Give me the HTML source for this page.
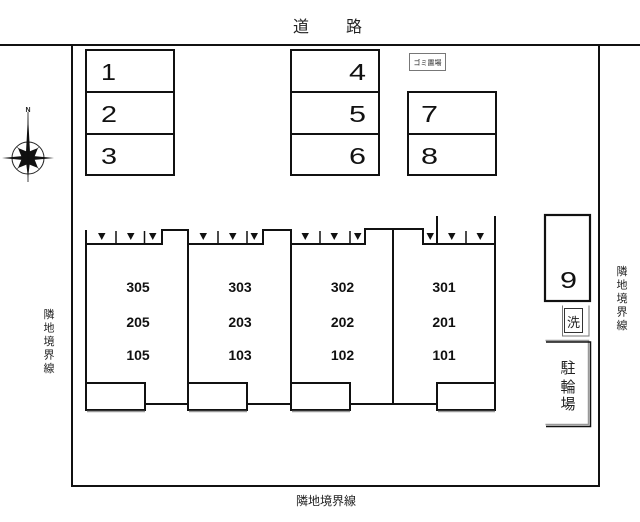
<!DOCTYPE html>
<html>
<head>
<meta charset="utf-8">
<style>
html,body{margin:0;padding:0;background:#fff;}
body{width:640px;height:522px;overflow:hidden;}
svg{display:block;}
.num{font-family:"Liberation Sans",sans-serif;font-size:23px;fill:#111;}
.unit{font-family:"Liberation Sans",sans-serif;font-size:14px;font-weight:bold;fill:#111;}
.jp{font-family:"Liberation Sans","Noto Sans CJK JP",sans-serif;fill:#222;}
</style>
</head>
<body>
<svg width="640" height="522" viewBox="0 0 640 522" xmlns="http://www.w3.org/2000/svg">
<rect width="640" height="522" fill="#fff"/>

<!-- Title -->
<text x="293" y="32" class="jp" font-size="16">道</text>
<text x="346" y="32" class="jp" font-size="16">路</text>

<!-- road line & boundaries -->
<line x1="0" y1="45" x2="640" y2="45" stroke="#111" stroke-width="2"/>
<polyline points="72,45 72,486 599,486 599,45" fill="none" stroke="#111" stroke-width="2"/>

<!-- Parking 1-3 -->
<g fill="none" stroke="#111" stroke-width="2">
  <rect x="86" y="50" width="88" height="125"/>
  <line x1="86" y1="92" x2="174" y2="92"/>
  <line x1="86" y1="134" x2="174" y2="134"/>
  <rect x="291" y="50" width="88" height="125"/>
  <line x1="291" y1="92" x2="379" y2="92"/>
  <line x1="291" y1="134" x2="379" y2="134"/>
  <rect x="408" y="92" width="88" height="83"/>
  <line x1="408" y1="134" x2="496" y2="134"/>
</g>
<text x="101" y="80" class="num" textLength="15" lengthAdjust="spacingAndGlyphs">1</text>
<text x="101" y="122" class="num" textLength="16" lengthAdjust="spacingAndGlyphs">2</text>
<text x="101" y="164" class="num" textLength="16" lengthAdjust="spacingAndGlyphs">3</text>
<text x="349" y="80" class="num" textLength="17" lengthAdjust="spacingAndGlyphs">4</text>
<text x="349" y="122" class="num" textLength="17" lengthAdjust="spacingAndGlyphs">5</text>
<text x="349" y="164" class="num" textLength="17" lengthAdjust="spacingAndGlyphs">6</text>
<text x="421" y="122" class="num" textLength="17" lengthAdjust="spacingAndGlyphs">7</text>
<text x="421" y="164" class="num" textLength="17" lengthAdjust="spacingAndGlyphs">8</text>

<!-- gomi box -->
<rect x="409.5" y="53.5" width="36" height="17" fill="#fff" stroke="#777" stroke-width="1"/>
<text x="427.5" y="65" class="jp" font-size="7" text-anchor="middle">ゴミ置場</text>

<!-- Compass -->
<g>
  <text x="28" y="112" class="jp" font-size="7" text-anchor="middle" font-weight="bold">N</text>
  <circle cx="28" cy="158" r="16" fill="none" stroke="#222" stroke-width="1"/>
  <g stroke="#444" stroke-width="0.6">
    <line x1="16.7" y1="146.7" x2="39.3" y2="169.3"/>
    <line x1="39.3" y1="146.7" x2="16.7" y2="169.3"/>
  </g>
  <polygon points="28,115 30.2,155.8 54,158 30.2,160.2 28,178 25.8,160.2 2,158 25.8,155.8" fill="#111"/>
  <polygon points="28,152 38,148 34,158 38,168 28,164 18,168 22,158 18,148" fill="#111"/>
  <line x1="28" y1="112" x2="28" y2="182" stroke="#111" stroke-width="0.8"/>
</g>

<!-- Buildings -->
<g fill="none" stroke="#111" stroke-width="2">
  <path d="M86,244 H162 V230 H188 V244 H263 V230 H291 V244 H365 V229 H423 V244 H495"/>
  <line x1="86" y1="230" x2="86" y2="411"/>
  <line x1="188" y1="229" x2="188" y2="404"/>
  <line x1="291" y1="229" x2="291" y2="404"/>
  <line x1="393" y1="228" x2="393" y2="404"/>
  <line x1="495" y1="216" x2="495" y2="411"/>
  <line x1="437" y1="216" x2="437" y2="244"/>
  <rect x="86" y="383" width="59" height="27" fill="#fff"/>
  <rect x="188" y="383" width="59" height="27" fill="#fff"/>
  <rect x="291" y="383" width="59" height="27" fill="#fff"/>
  <rect x="437" y="383" width="58" height="27" fill="#fff"/>
  <line x1="145" y1="404" x2="188" y2="404"/>
  <line x1="247" y1="404" x2="291" y2="404"/>
  <line x1="350" y1="404" x2="437" y2="404"/>
</g>
<g stroke="#999" stroke-width="1.5">
  <line x1="87" y1="411.5" x2="145" y2="411.5"/>
  <line x1="189" y1="411.5" x2="247" y2="411.5"/>
  <line x1="292" y1="411.5" x2="350" y2="411.5"/>
  <line x1="438" y1="411.5" x2="495" y2="411.5"/>
</g>
<!-- ticks -->
<g stroke="#111" stroke-width="1.5">
  <line x1="116" y1="231" x2="116" y2="244"/>
  <line x1="144.5" y1="231" x2="144.5" y2="244"/>
  <line x1="218" y1="231" x2="218" y2="244"/>
  <line x1="247" y1="231" x2="247" y2="244"/>
  <line x1="320" y1="231" x2="320" y2="244"/>
  <line x1="350" y1="231" x2="350" y2="244"/>
  <line x1="466" y1="231" x2="466" y2="244"/>
</g>
<!-- triangles -->
<g fill="#111">
  <polygon points="98,233 105.5,233 101.75,240"/>
  <polygon points="127,233 134.5,233 130.75,240"/>
  <polygon points="149,233 156.5,233 152.75,240"/>
  <polygon points="199.5,233 207,233 203.25,240"/>
  <polygon points="229,233 236.5,233 232.75,240"/>
  <polygon points="250.5,233 258,233 254.25,240"/>
  <polygon points="301.5,233 309,233 305.25,240"/>
  <polygon points="330.5,233 338,233 334.25,240"/>
  <polygon points="354,233 361.5,233 357.75,240"/>
  <polygon points="426.5,233 434,233 430.25,240"/>
  <polygon points="448,233 455.5,233 451.75,240"/>
  <polygon points="476.5,233 484,233 480.25,240"/>
</g>
<!-- unit numbers -->
<g class="unit" text-anchor="middle">
  <text x="138" y="292" class="unit" text-anchor="middle">305</text>
  <text x="138" y="327" class="unit" text-anchor="middle">205</text>
  <text x="138" y="360" class="unit" text-anchor="middle">105</text>
  <text x="240" y="292" class="unit" text-anchor="middle">303</text>
  <text x="240" y="327" class="unit" text-anchor="middle">203</text>
  <text x="240" y="360" class="unit" text-anchor="middle">103</text>
  <text x="342.5" y="292" class="unit" text-anchor="middle">302</text>
  <text x="342.5" y="327" class="unit" text-anchor="middle">202</text>
  <text x="342.5" y="360" class="unit" text-anchor="middle">102</text>
  <text x="444" y="292" class="unit" text-anchor="middle">301</text>
  <text x="444" y="327" class="unit" text-anchor="middle">201</text>
  <text x="444" y="360" class="unit" text-anchor="middle">101</text>
</g>

<!-- Parking 9 -->
<rect x="545" y="215" width="45" height="86" fill="none" stroke="#111" stroke-width="2.2"/>
<text x="560" y="288" class="num" textLength="17" lengthAdjust="spacingAndGlyphs">9</text>

<!-- wash -->
<polyline points="562.5,305.5 562.5,336 589,336 589,305.5" fill="none" stroke="#777" stroke-width="1"/>
<rect x="564.5" y="308.5" width="18" height="24" fill="none" stroke="#333" stroke-width="1"/>
<text x="573.5" y="327" class="jp" font-size="13" text-anchor="middle">洗</text>

<!-- bicycle parking -->
<polyline points="545.5,340.5 588.5,340.5 588.5,424.5 545.5,424.5" fill="none" stroke="#999" stroke-width="1.5"/>
<polyline points="546,342 590.5,342 590.5,426.5 546,426.5" fill="none" stroke="#111" stroke-width="1.5"/>
<text x="568" y="373" class="jp" font-size="15" text-anchor="middle">駐</text>
<text x="568" y="392" class="jp" font-size="15" text-anchor="middle">輪</text>
<text x="568" y="409" class="jp" font-size="15" text-anchor="middle">場</text>

<!-- boundary labels -->
<g class="jp" font-size="11" text-anchor="middle">
  <text x="49" y="318">隣</text>
  <text x="49" y="331.5">地</text>
  <text x="49" y="345">境</text>
  <text x="49" y="358.5">界</text>
  <text x="49" y="372">線</text>
  <text x="622" y="275">隣</text>
  <text x="622" y="288.5">地</text>
  <text x="622" y="302">境</text>
  <text x="622" y="315.5">界</text>
  <text x="622" y="329">線</text>
</g>
<text x="326" y="505" class="jp" font-size="12" text-anchor="middle">隣地境界線</text>
</svg>
</body>
</html>
